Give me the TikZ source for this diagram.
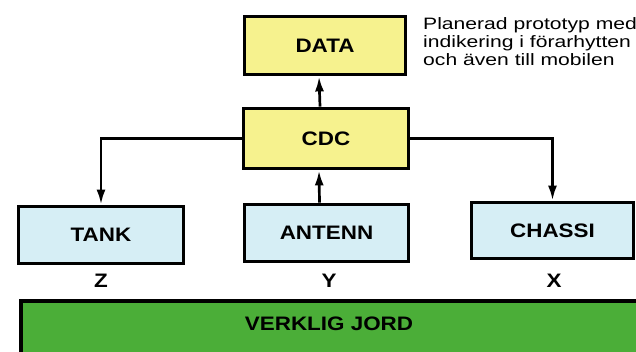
\documentclass[tikz,border=0pt]{standalone}
\usepackage{fontspec}
\setmainfont{Liberation Sans}[FakeStretch=1.28]
\newfontfamily\boxfont{Liberation Sans Bold}[FakeStretch=1.15]
\usetikzlibrary{arrows.meta}
\definecolor{boxyellow}{HTML}{F6F28E}
\definecolor{boxblue}{HTML}{D6EEF5}
\definecolor{earthgreen}{HTML}{4BAE38}
\tikzset{
  blk/.style={draw=black, line width=3.8pt, inner sep=0pt, font=\fontsize{19.5}{22}\boxfont},
  ybox/.style={blk, fill=boxyellow},
  bbox/.style={blk, fill=boxblue},
  gbox/.style={blk, fill=earthgreen},
  axlbl/.style={inner sep=0pt, font=\fontsize{19.5}{22}\boxfont},
  conn/.style={line width=2.7pt, -{Latex[length=15pt,width=9pt]}}
}
\begin{document}
\begin{tikzpicture}[x=1pt,y=-1pt]
\clip (0,0) rectangle (636,351);
\fill[white] (0,0) rectangle (636,351);
\node[ybox, minimum width=161pt, minimum height=58pt] (data) at (325,45.5) {DATA};
\node[ybox, minimum width=165pt, minimum height=60pt] (cdc) at (326,138.5) {CDC};
\node[bbox, minimum width=165pt, minimum height=57pt] (tank) at (101,235) {TANK};
\node[bbox, minimum width=164pt, minimum height=57pt] (antenn) at (326.5,233) {ANTENN};
\node[bbox, minimum width=162pt, minimum height=56pt] (chassi) at (552.5,230.5) {CHASSI};
\node[gbox, minimum width=640pt, minimum height=80pt, anchor=north west] (jord) at (18.9,298.9) {};
\node[axlbl] (jordlbl) at (329,324) {VERKLIG JORD};
\node[axlbl] (z) at (101,281) {Z};
\node[axlbl] (y) at (329,281) {Y};
\node[axlbl] (x) at (554,281) {X};
\node[anchor=north west, inner sep=0pt, align=left, font=\fontsize{16.5}{18}\selectfont] (note) at (423,17)
  {Planerad prototyp med\\indikering i förarhytten\\och även till mobilen};
\draw[conn] ([xshift=-6pt]cdc.north) -- ([xshift=-6pt]data.south);
\draw[conn] ([xshift=-7pt]antenn.north) -- ([xshift=-7pt]cdc.south);
\draw[conn] (cdc.west) -| (tank.north);
\draw[conn] (cdc.east) -| (chassi.north);
\end{tikzpicture}
\end{document}
